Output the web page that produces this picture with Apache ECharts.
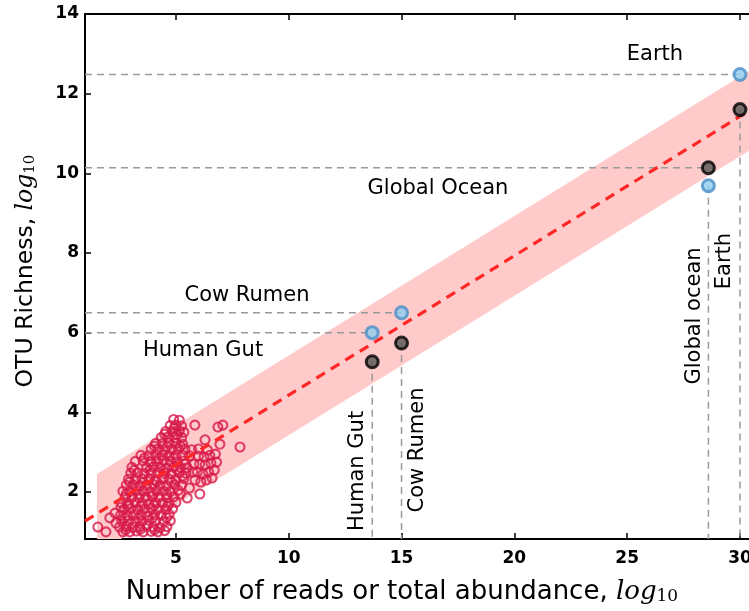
<!DOCTYPE html>
<html>
<head>
<meta charset="utf-8">
<script src="https://cdn.jsdelivr.net/npm/echarts@6/dist/echarts.min.js"></script>
<style>
  html, body { margin: 0; padding: 0; background: #fff; }
  #main { width: 749px; height: 611px; }
</style>
</head>
<body>
<div id="main"></div>
<script>
// reference ecosystems (x = log10 abundance, y = log10 richness)
const sites = ['Human Gut', 'Cow Rumen', 'Global Ocean', 'Earth'];
const siteReads = [13.7, 15.0, 28.6, 30.0];
const richBlue = [6.0, 6.5, 9.69, 12.48];
const richBlack = [5.27, 5.74, 10.14, 11.6];

// fitted scaling line and its band
const fitX = [0.97, 30.4];
const fitY = [1.27, 11.57];
const bandX = [1.5, 30.4];
const bandLow = [0.45, 10.57];
const bandHigh = [2.45, 12.57];

const xTicks = [5, 10, 15, 20, 25, 30];
const yTicks = [2, 4, 6, 8, 10, 12, 14];

// microbial samples
const samples = [
  [2.65,1.00],[2.95,1.00],[3.25,1.02],[3.55,1.00],[3.9,1.01],[4.2,1.00],[4.5,1.03],
  [2.5,1.12],[2.8,1.13],[3.1,1.11],[3.4,1.12],[3.7,1.14],[4.0,1.12],[4.3,1.11],[4.6,1.13],
  [2.6,1.27],[2.9,1.28],[3.2,1.26],[3.5,1.27],[3.8,1.29],[4.1,1.27],[4.45,1.26],[4.75,1.28],
  [2.55,1.42],[2.85,1.41],[3.15,1.43],[3.45,1.42],[3.75,1.40],[4.05,1.43],[4.35,1.42],[4.7,1.44],
  [2.7,1.57],[3.0,1.58],[3.3,1.56],[3.6,1.57],[3.9,1.59],[4.2,1.57],[4.55,1.56],[4.85,1.58],
  [2.6,1.72],[2.9,1.71],[3.2,1.73],[3.5,1.72],[3.8,1.70],[4.1,1.73],[4.4,1.72],[4.7,1.71],[5.0,1.74],
  [2.75,1.87],[3.05,1.88],[3.35,1.86],[3.65,1.87],[3.95,1.89],[4.25,1.87],[4.6,1.86],[4.9,1.88],
  [2.65,2.02],[2.95,2.01],[3.25,2.03],[3.55,2.02],[3.85,2.00],[4.15,2.03],[4.45,2.02],[4.75,2.01],[5.1,2.04],
  [2.8,2.17],[3.1,2.18],[3.4,2.16],[3.7,2.17],[4.0,2.19],[4.3,2.17],[4.6,2.16],[4.95,2.18],[5.25,2.17],
  [2.9,2.32],[3.2,2.31],[3.5,2.33],[3.8,2.32],[4.1,2.30],[4.4,2.33],[4.7,2.32],[5.0,2.31],[5.35,2.34],
  [3.0,2.47],[3.3,2.48],[3.6,2.46],[3.9,2.47],[4.2,2.49],[4.5,2.47],[4.8,2.46],[5.15,2.48],[5.45,2.47],
  [3.05,2.62],[3.7,2.61],[4.0,2.63],[4.3,2.62],[4.6,2.60],[4.9,2.63],[5.2,2.62],[5.5,2.61],
  [3.2,2.77],[3.55,2.78],[3.85,2.76],[4.15,2.77],[4.45,2.79],[4.75,2.77],[5.05,2.76],[5.35,2.78],
  [3.45,2.92],[3.8,2.91],[4.1,2.93],[4.4,2.92],[4.7,2.90],[5.0,2.93],[5.3,2.92],[5.6,2.91],
  [3.9,3.07],[4.2,3.08],[4.5,3.06],[4.8,3.07],[5.1,3.09],[5.4,3.07],[5.7,3.06],[6.0,3.08],
  [4.1,3.22],[4.4,3.21],[4.7,3.23],[5.0,3.22],[5.3,3.20],
  [4.35,3.37],[4.65,3.38],[4.95,3.36],[5.25,3.37],
  [4.55,3.52],[4.85,3.51],[5.15,3.53],[5.35,3.50],
  [4.75,3.67],[5.0,3.68],[5.25,3.66],
  [4.9,3.82],[5.15,3.80],
  // filling between the rows
  [2.78,1.05],[3.42,1.06],[4.05,1.05],[2.72,1.35],[3.33,1.34],[3.97,1.35],[4.58,1.36],
  [2.85,1.65],[3.45,1.64],[4.02,1.66],[4.62,1.64],[2.8,1.95],[3.4,1.94],[4.0,1.95],[4.6,1.94],
  [2.95,2.25],[3.55,2.24],[4.15,2.26],[4.8,2.25],[3.15,2.55],[3.85,2.55],[4.45,2.54],[5.05,2.56],
  [3.6,2.85],[4.25,2.84],[4.9,2.85],[4.05,3.15],[4.6,3.14],[5.2,3.15],[4.5,3.45],[5.05,3.44],
  [5.2,1.95],[5.3,2.4],[5.4,2.7],[4.92,3.6],
  [5.85,2.30],[6.1,2.25],[6.35,2.30],[5.95,2.50],[6.2,2.45],[6.45,2.50],[6.7,2.55],
  [5.8,2.70],[6.05,2.70],[6.3,2.68],[6.55,2.72],[6.8,2.75],[6.0,2.90],[6.25,2.88],
  [6.5,2.92],[6.75,2.95],[6.4,3.05],[6.6,2.35],[5.75,2.50],
  [5.84,3.68],[6.86,3.63],[7.08,3.68],[6.29,3.31],[6.95,3.20],[7.84,3.13],[6.06,1.95],
  [1.54,1.12],[1.9,1.00],[2.07,1.35],[2.34,1.22],[2.56,1.62],[2.3,1.47],[5.6,2.10],[5.5,1.85]
];

const chart = echarts.init(document.getElementById('main'));

const refLines = [];
sites.forEach((s, i) => {
  const top = Math.max(richBlue[i], richBlack[i]);
  const low = Math.min(richBlue[i], richBlack[i]);
  refLines.push([[fitX[0], top], [siteReads[i], top]]);
  refLines.push([[siteReads[i], low], [siteReads[i], 0.82]]);
});

const dashGray = { color: '#9a9a9a', width: 1.5, type: [7, 5] };
const series = [];

series.push({
  type: 'custom',
  clip: true,
  z: 1,
  silent: true,
  data: [[bandX[0], bandLow[0]]],
  renderItem: (params, api) => {
    const pts = [];
    for (let i = 0; i < bandX.length; i++) pts.push(api.coord([bandX[i], bandHigh[i]]));
    for (let i = bandX.length - 1; i >= 0; i--) pts.push(api.coord([bandX[i], bandLow[i]]));
    return { type: 'polygon', shape: { points: pts }, style: { fill: '#ffcaca' } };
  }
});

refLines.forEach(seg => {
  series.push({
    type: 'line', data: seg, symbol: 'none', z: 2, silent: true,
    lineStyle: dashGray
  });
});

series.push({
  type: 'scatter',
  data: samples,
  symbol: 'circle',
  symbolSize: 9,
  z: 3,
  itemStyle: { color: 'rgba(255,255,255,0)', borderColor: '#d7194a', borderWidth: 2.1 }
});

series.push({
  type: 'line',
  data: fitX.map((x, i) => [x, fitY[i]]),
  symbol: 'none',
  z: 4,
  lineStyle: { color: '#ff2626', width: 3.2, type: [10, 7] }
});

series.push({
  type: 'scatter',
  data: siteReads.map((x, i) => [x, richBlue[i]]),
  symbolSize: 12,
  z: 5,
  itemStyle: { color: '#8fcdf0', borderColor: '#4b8fc6', borderWidth: 3 }
});
series.push({
  type: 'scatter',
  data: siteReads.map((x, i) => [x, richBlack[i]]),
  symbolSize: 12,
  z: 5,
  itemStyle: { color: '#555', borderColor: '#000', borderWidth: 3 }
});

const axisFont = { fontFamily: 'DejaVu Sans', fontSize: 17, fontWeight: 'bold', color: '#000' };
const labelFont = { fontFamily: 'DejaVu Sans', fontSize: 21, fill: '#000' };

function txt(text, x, y, rot) {
  return {
    type: 'text', x: x, y: y, rotation: rot || 0, z: 10,
    style: Object.assign({ text: text, align: 'center', verticalAlign: 'middle' }, labelFont)
  };
}

chart.setOption({
  animation: false,
  grid: { left: 85, right: 0, top: 14, bottom: 72, outerBoundsMode: 'none', containLabel: false },
  xAxis: [
    {
      type: 'value', min: 0.97, max: 30.4, position: 'bottom',
      splitLine: { show: false },
      axisLine: { onZero: false, lineStyle: { color: '#000', width: 2 } },
      axisTick: { inside: true, length: 6, customValues: xTicks, lineStyle: { color: '#000', width: 1.5 } },
      axisLabel: Object.assign({ customValues: xTicks, margin: 11 }, axisFont)
    },
    {
      type: 'value', min: 0.97, max: 30.4, position: 'top',
      splitLine: { show: false },
      axisLine: { onZero: false, lineStyle: { color: '#000', width: 2 } },
      axisTick: { inside: true, length: 6, customValues: xTicks, lineStyle: { color: '#000', width: 1.5 } },
      axisLabel: { show: false }
    }
  ],
  yAxis: {
    type: 'value', min: 0.82, max: 14,
    splitLine: { show: false },
    axisLine: { onZero: false, lineStyle: { color: '#000', width: 2 } },
    axisTick: { inside: true, length: 6, customValues: yTicks, lineStyle: { color: '#000', width: 1.5 } },
    axisLabel: Object.assign({ customValues: yTicks, margin: 6 }, axisFont)
  },
  series: series,
  graphic: [
    txt('Earth', 655, 55),
    txt('Global Ocean', 438, 189),
    txt('Cow Rumen', 247, 296),
    txt('Human Gut', 203, 351),
    txt('Human Gut', 358, 471, Math.PI / 2),
    txt('Cow Rumen', 418, 450, Math.PI / 2),
    txt('Global ocean', 695, 316, Math.PI / 2),
    txt('Earth', 725, 261, Math.PI / 2),
    {
      type: 'text', x: 402, y: 592, z: 10,
      style: {
        text: 'Number of reads or total abundance, {i|log}{s|10}',
        align: 'center', verticalAlign: 'middle',
        fontFamily: 'DejaVu Sans', fontSize: 26, fill: '#000',
        rich: {
          i: { fontFamily: 'DejaVu Serif', fontStyle: 'italic', fontSize: 26 },
          s: { fontFamily: 'DejaVu Serif', fontSize: 17, verticalAlign: 'bottom', padding: [10, 0, 0, 0] }
        }
      }
    },
    {
      type: 'text', x: 26, y: 271, rotation: Math.PI / 2, z: 10,
      style: {
        text: 'OTU Richness, {i|log}{s|10}',
        align: 'center', verticalAlign: 'middle',
        fontFamily: 'DejaVu Sans', fontSize: 23.5, fill: '#000',
        rich: {
          i: { fontFamily: 'DejaVu Serif', fontStyle: 'italic', fontSize: 23.5 },
          s: { fontFamily: 'DejaVu Serif', fontSize: 15, verticalAlign: 'bottom', padding: [9, 0, 0, 0] }
        }
      }
    }
  ]
});
</script>
</body>
</html>
